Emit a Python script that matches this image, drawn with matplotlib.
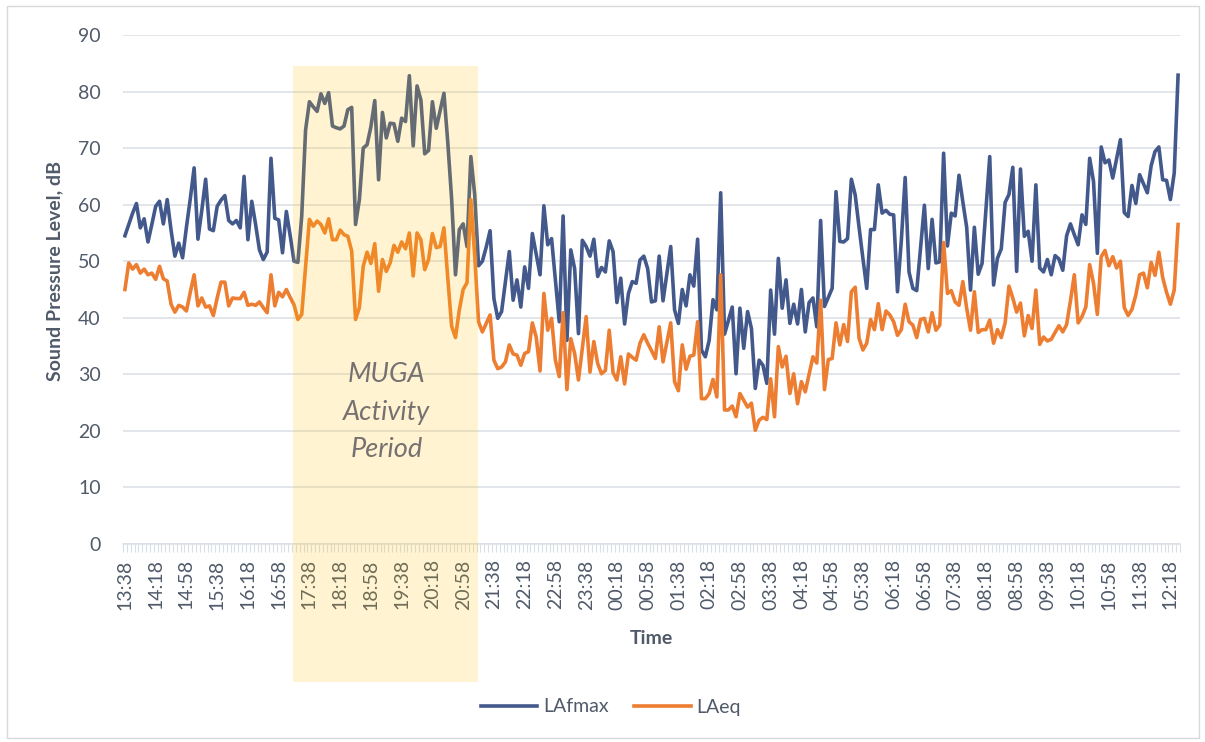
import numpy as np
import pandas as pd
import matplotlib
matplotlib.use("Agg")
import matplotlib.pyplot as plt
from matplotlib.patches import Rectangle

plt.rcParams["font.family"] = ["Lato", "DejaVu Sans"]

# 5-minute readings, 13:38 -> 12:28 next day
START = "2000-01-01 13:38"
STEP = "5min"

TICK_LABELS = [
    "13:38", "14:18", "14:58", "15:38", "16:18", "16:58", "17:38", "18:18", "18:58",
    "19:38", "20:18", "20:58", "21:38", "22:18", "22:58", "23:38", "00:18", "00:58",
    "01:38", "02:18", "02:58", "03:38", "04:18", "04:58", "05:38", "06:18", "06:58",
    "07:38", "08:18", "08:58", "09:38", "10:18", "10:58", "11:38", "12:18",
]

LAFMAX = [
    54.5, 56.5, 58.5, 60.2, 55.9, 57.5, 53.4, 56.5, 59.7, 60.6,
    56.6, 60.9, 55.5, 50.9, 53.2, 50.6, 56.0, 61.0, 66.5, 53.9,
    59.0, 64.5, 55.7, 55.4, 59.7, 60.8, 61.6, 57.2, 56.6, 57.2,
    55.9, 65.0, 53.8, 60.6, 56.5, 52.0, 50.3, 51.6, 68.2, 57.6,
    57.3, 51.5, 58.8, 54.5, 50.0, 49.8, 58.0, 73.2, 78.2, 77.3,
    76.5, 79.6, 77.9, 79.8, 73.9, 73.6, 73.4, 73.9, 76.8, 77.2,
    56.5, 60.9, 70.0, 70.6, 73.8, 78.4, 64.4, 76.3, 71.8, 74.4,
    74.3, 71.2, 75.3, 74.7, 82.8, 70.4, 81.0, 78.5, 69.0, 69.6,
    78.2, 73.5, 76.6, 79.7, 71.0, 61.0, 47.6, 55.6, 56.6, 52.6,
    68.5, 61.8, 49.2, 50.0, 52.5, 55.4, 43.4, 39.9, 41.1, 46.4,
    51.7, 43.1, 46.7, 41.9, 49.0, 45.2, 54.9, 51.2, 47.6, 59.8,
    52.9, 54.0, 46.6, 39.3, 58.0, 36.0, 52.0, 48.7, 37.2, 53.7,
    52.6, 50.9, 53.9, 47.3, 48.9, 48.1, 53.6, 51.7, 42.7, 47.0,
    38.9, 44.3, 46.4, 46.1, 50.2, 50.9, 48.7, 42.8, 43.0, 50.9,
    43.0, 47.8, 52.6, 41.4, 39.0, 45.0, 42.1, 47.6, 45.6, 53.9,
    34.3, 33.1, 36.0, 43.2, 41.4, 62.1, 37.1, 39.5, 41.9, 30.1,
    41.7, 34.6, 41.1, 38.1, 27.5, 32.5, 31.6, 28.4, 44.9, 37.1,
    50.5, 41.7, 46.7, 39.0, 42.4, 38.9, 45.0, 37.5, 42.7, 43.5,
    38.4, 57.2, 42.0, 43.6, 45.2, 62.3, 53.5, 53.4, 54.0, 64.5,
    61.7, 56.0, 50.5, 45.2, 55.6, 55.6, 63.5, 58.5, 59.0, 58.3,
    58.2, 44.6, 53.7, 64.8, 48.1, 45.2, 44.8, 52.3, 59.9, 48.7,
    57.4, 49.7, 49.9, 69.1, 52.7, 58.5, 58.0, 65.2, 60.5, 56.0,
    44.9, 56.0, 47.7, 49.6, 59.0, 68.5, 45.8, 50.5, 52.2, 60.4,
    61.8, 66.6, 48.2, 66.3, 54.4, 55.3, 50.0, 63.5, 48.8, 48.1,
    50.3, 47.6, 51.0, 50.4, 48.4, 54.5, 56.6, 54.7, 52.9, 58.2,
    56.5, 68.2, 64.1, 51.4, 70.2, 67.4, 67.9, 64.7, 68.1, 71.5,
    58.6, 57.9, 63.4, 60.2, 65.3, 63.7, 62.1, 66.9, 69.4, 70.2,
    64.4, 64.3, 60.9, 65.6, 82.9,
]

LAEQ = [
    45.0, 49.7, 48.6, 49.4, 47.9, 48.6, 47.6, 47.9, 46.8, 49.1,
    46.9, 46.5, 42.4, 41.0, 42.2, 41.9, 41.2, 44.5, 47.6, 42.1,
    43.5, 41.9, 42.1, 40.4, 43.5, 46.3, 46.3, 42.1, 43.5, 43.4,
    43.4, 44.5, 42.2, 42.4, 42.2, 42.8, 41.8, 40.9, 47.6, 42.1,
    44.5, 43.7, 45.0, 43.6, 42.3, 39.7, 40.6, 49.0, 57.4, 56.2,
    57.1, 56.5, 55.0, 57.5, 53.8, 53.8, 55.5, 54.7, 54.4, 51.8,
    39.7, 41.8, 49.1, 51.6, 49.6, 53.1, 44.7, 50.3, 48.2, 49.7,
    52.8, 51.6, 53.4, 52.2, 55.0, 47.4, 55.0, 53.8, 48.5, 50.3,
    54.9, 52.4, 52.6, 55.9, 47.0, 38.5, 36.5, 41.4, 45.0, 46.2,
    60.9, 51.0, 39.3, 37.5, 39.0, 40.5, 32.5, 31.0, 31.3, 32.2,
    35.2, 33.6, 33.4, 31.6, 33.7, 34.0, 39.1, 36.6, 30.6, 44.3,
    37.8, 39.9, 32.5, 29.6, 40.9, 27.3, 36.3, 33.7, 29.0, 34.6,
    40.2, 30.4, 35.8, 31.9, 30.1, 30.7, 37.8, 30.3, 29.0, 33.1,
    28.3, 33.6, 33.0, 32.5, 35.5, 37.0, 35.5, 34.2, 32.8, 38.4,
    32.2, 35.6, 39.1, 28.7, 27.1, 35.2, 30.9, 33.2, 33.4, 39.3,
    25.7, 25.7, 26.6, 29.1, 26.0, 47.6, 23.7, 23.7, 24.4, 22.5,
    26.6, 25.4, 24.2, 24.9, 20.1, 21.9, 22.4, 22.0, 29.2, 22.5,
    34.9, 31.3, 33.2, 26.6, 30.1, 24.8, 28.7, 26.9, 30.0, 33.1,
    32.0, 43.1, 27.3, 32.6, 32.8, 39.1, 35.2, 38.8, 35.8, 44.6,
    45.4, 36.4, 34.3, 35.5, 39.7, 37.9, 42.5, 37.9, 41.2, 40.5,
    39.3, 36.9, 37.9, 42.4, 39.3, 38.7, 36.5, 39.7, 39.9, 37.5,
    40.9, 37.8, 38.7, 53.3, 44.3, 44.8, 42.8, 42.2, 46.4, 41.7,
    37.8, 44.6, 37.4, 37.9, 37.9, 39.6, 35.5, 37.9, 36.5, 39.1,
    45.6, 43.5, 41.0, 42.6, 36.8, 40.4, 38.1, 44.9, 35.3, 36.6,
    35.9, 36.2, 37.4, 38.6, 37.5, 38.8, 43.0, 47.6, 39.1, 40.2,
    41.9, 49.4, 46.1, 40.6, 50.8, 51.9, 49.2, 50.8, 48.8, 50.0,
    41.8, 40.4, 41.5, 44.0, 47.6, 47.9, 45.3, 49.8, 47.5, 51.6,
    47.1, 44.5, 42.4, 44.9, 56.5,
]

# shaded MUGA period, in category units
MUGA_SPAN = (43.7, 91.9)

BLUE = "#43598C"
ORANGE = "#ED7D31"
TXT = "#505A69"
GRID = "#DADFE6"

n = len(LAFMAX)
times = pd.date_range(START, periods=n, freq=STEP).strftime("%H:%M").tolist()
x = np.arange(n)
tick_idx = [times.index(t) for t in TICK_LABELS]

fig = plt.figure(figsize=(12.05, 7.42), dpi=100)
ax = fig.add_axes([123 / 1205, 1 - 544 / 742, (1180 - 123) / 1205, (544 - 35) / 742])

ax.plot(x, LAFMAX, color=BLUE, lw=2.6, label="LAfmax", solid_joinstyle="round")
ax.plot(x, LAEQ, color=ORANGE, lw=2.6, label="LAeq", solid_joinstyle="round")

ax.set_xlim(-0.5, n - 0.5)
ax.set_ylim(0, 90)
ax.set_yticks(np.arange(0, 91, 10))
ax.yaxis.grid(True, color=GRID, lw=1.1)
ax.set_axisbelow(True)

for s in ["top", "right", "left"]:
    ax.spines[s].set_visible(False)
ax.spines["bottom"].set_color(GRID)
ax.spines["bottom"].set_linewidth(1.1)

ax.set_xticks(tick_idx, TICK_LABELS, rotation=90)
ax.set_xticks(np.arange(-0.5, n, 1.0), minor=True)
ax.tick_params(axis="x", which="major", length=0, pad=11, labelsize=14, labelcolor=TXT)
ax.tick_params(axis="x", which="minor", length=6, width=0.8, color=GRID)
ax.tick_params(axis="y", length=0, pad=16, labelsize=14, labelcolor=TXT)

# activity period shading (runs down over the time labels)
y_bot = -24.4
y_top = 84.5
ax.add_patch(Rectangle((MUGA_SPAN[0], y_bot), MUGA_SPAN[1] - MUGA_SPAN[0], y_top - y_bot,
                       facecolor="#FFC000", alpha=0.18, lw=0, zorder=5, clip_on=False))
ax.text(np.mean(MUGA_SPAN) + 0.3, 23.3, "MUGA\nActivity\nPeriod", ha="center", va="center",
        style="italic", fontsize=19.5, color="#767171", linespacing=1.62, zorder=6)

fig.text(55 / 1205, 1 - 271 / 742, "Sound Pressure Level, dB", rotation=90, ha="center",
         va="center", fontsize=14, fontweight="bold", color=TXT)
fig.text(651 / 1205, 1 - 638 / 742, "Time", ha="center", va="center",
         fontsize=14, fontweight="bold", color=TXT)

fig.legend(loc="center", bbox_to_anchor=(611 / 1205, 1 - 707 / 742), ncol=2, frameon=False,
           fontsize=14, handlelength=2.9, handletextpad=0.3, columnspacing=1.3, labelcolor=TXT)

fig.patches.append(Rectangle((6.5 / 1205, 4.5 / 742), (1199 - 6.5) / 1205, (737 - 5) / 742,
                             transform=fig.transFigure, fill=False, ec="#D9D9D9", lw=1))

fig.savefig("out.png", dpi=100)
